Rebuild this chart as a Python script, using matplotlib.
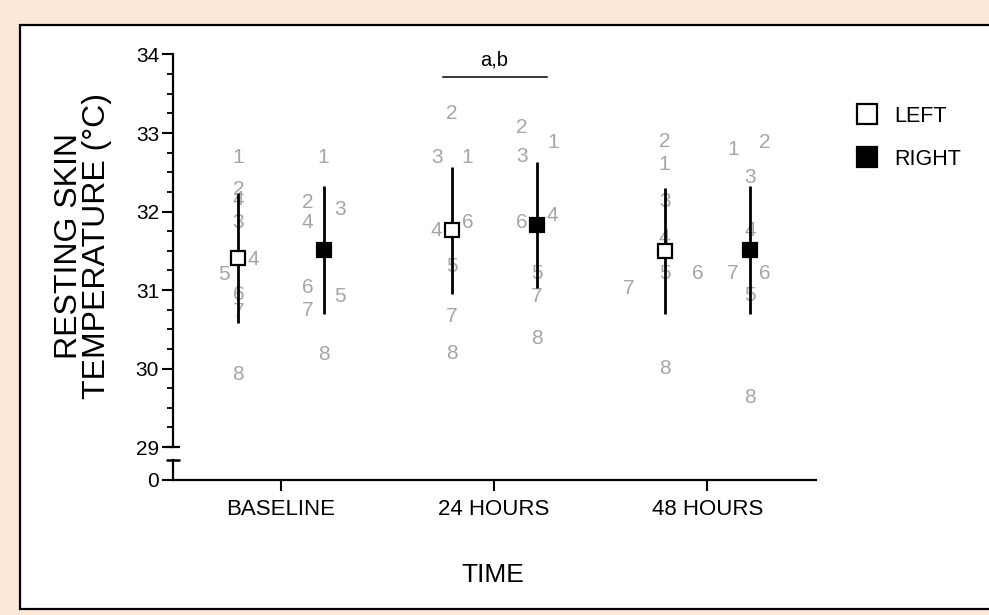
import numpy as np
import matplotlib
matplotlib.use("Agg")
import matplotlib.pyplot as plt
from matplotlib.patches import Rectangle

plt.rcParams['font.family'] = ['Liberation Sans', 'DejaVu Sans']

# categories and group summary (mean +/- SD)
times = ["BASELINE", "24 HOURS", "48 HOURS"]
left_mean = [31.41, 31.76, 31.50]
left_sd = [0.83, 0.81, 0.80]
right_mean = [31.51, 31.83, 31.51]
right_sd = [0.81, 0.80, 0.81]

# individual subject values, one list per time/side
bl_left_labels = ['1', '2', '4', '3', '4', '5', '6', '7', '8']
bl_left_vals = [32.69, 32.28, 32.15, 31.86, 31.39, 31.20, 30.94, 30.72, 29.93]
bl_right_labels = ['1', '2', '3', '4', '6', '5', '7', '8']
bl_right_vals = [32.69, 32.11, 32.03, 31.86, 31.03, 30.92, 30.74, 30.18]
h24_left_labels = ['2', '3', '1', '4', '6', '5', '7', '8']
h24_left_vals = [33.25, 32.69, 32.69, 31.76, 31.86, 31.30, 30.66, 30.19]
h24_right_labels = ['2', '1', '3', '6', '4', '5', '7', '8']
h24_right_vals = [33.07, 32.88, 32.70, 31.86, 31.95, 31.21, 30.92, 30.38]
h48_left_labels = ['2', '1', '3', '4', '5', '6', '7', '8']
h48_left_vals = [32.89, 32.60, 32.13, 31.67, 31.21, 31.21, 31.02, 30.00]
h48_right_labels = ['1', '2', '3', '4', '7', '6', '5', '8']
h48_right_vals = [32.79, 32.88, 32.43, 31.76, 31.21, 31.21, 30.93, 29.63]

# horizontal nudges of the number labels (layout only, category units)
bl_left_dx = [0, 0, 0, 0, 0.07, -0.07, 0, 0, 0]
bl_right_dx = [0, -0.075, 0.075, -0.075, -0.075, 0.075, -0.075, 0]
h24_left_dx = [0, -0.07, 0.075, -0.07, 0.075, 0, 0, 0]
h24_right_dx = [-0.07, 0.075, -0.07, -0.07, 0.075, 0, 0, 0]
h48_left_dx = [0, 0, 0, 0, 0, 0.155, -0.17, 0]
h48_right_dx = [-0.08, 0.07, 0, 0, -0.08, 0.07, 0, 0]

side_shift = 0.2
y_bottom = 28.58
gray = '#a6a6a6'

fig = plt.figure(figsize=(9.89, 6.15), dpi=100)
fig.patch.set_facecolor('#fce8d9')
fig.patches.append(Rectangle((20 / 989, 6 / 615), 1.0, 584 / 615, transform=fig.transFigure,
                             facecolor='white', edgecolor='black', linewidth=1.6, zorder=-10))

ax = fig.add_axes([173 / 989, 135 / 615, 643 / 989, 425.5 / 615])
ax.set_facecolor('none')

x = np.arange(len(times))
xl = x - side_shift
xr = x + side_shift

# individual numbers (behind the bars)
groups = [
    (xl[0], bl_left_vals, bl_left_labels, bl_left_dx),
    (xr[0], bl_right_vals, bl_right_labels, bl_right_dx),
    (xl[1], h24_left_vals, h24_left_labels, h24_left_dx),
    (xr[1], h24_right_vals, h24_right_labels, h24_right_dx),
    (xl[2], h48_left_vals, h48_left_labels, h48_left_dx),
    (xr[2], h48_right_vals, h48_right_labels, h48_right_dx),
]
for xc, vals, labs, dxs in groups:
    for v, lab, dx in zip(vals, labs, dxs):
        ax.text(xc + dx, v, lab, color=gray, fontsize=15, ha='center', va='center', zorder=1)

ax.errorbar(xl, left_mean, yerr=left_sd, fmt='none', ecolor='black', elinewidth=2.0, capsize=0, zorder=3)
ax.errorbar(xr, right_mean, yerr=right_sd, fmt='none', ecolor='black', elinewidth=2.0, capsize=0, zorder=3)
hl, = ax.plot(xl, left_mean, 's', ms=9.5, mfc='white', mec='black', mew=1.6, ls='none', zorder=4, label='LEFT')
hr, = ax.plot(xr, right_mean, 's', ms=9.5, mfc='black', mec='black', mew=1.6, ls='none', zorder=4, label='RIGHT')

# significance bar over 24 hours
ax.plot([0.76, 1.25], [33.714, 33.714], color='black', lw=1.1, clip_on=False)
ax.text(1.0, 33.93, 'a,b', fontsize=14.5, ha='center', va='center')

ax.set_xlim(-0.507, 2.51)
ax.set_ylim(y_bottom, 34)

# broken y axis
for s in ['top', 'right', 'left']:
    ax.spines[s].set_visible(False)
ax.spines['bottom'].set_linewidth(1.6)
yt = ax.get_yaxis_transform()
ax.plot([0, 0], [29, 34], color='black', lw=1.6, transform=yt, clip_on=False)
ax.plot([0, 0], [y_bottom, 28.835], color='black', lw=1.6, transform=yt, clip_on=False)
ax.plot([0], [28.835], marker='_', ms=10, mew=1.8, color='black', transform=yt, clip_on=False)
ax.plot([0], [29], marker='_', ms=10, mew=1.6, color='black', transform=yt, clip_on=False)

ax.set_yticks([y_bottom, 29, 30, 31, 32, 33, 34])
ax.set_yticklabels(['0', '29', '30', '31', '32', '33', '34'], fontsize=15)
ax.set_yticks(np.arange(29, 34.01, 0.25), minor=True)
ax.tick_params(axis='y', which='major', direction='out', length=8, width=1.5, pad=2)
ax.tick_params(axis='y', which='minor', direction='out', length=4.5, width=1.3)

ax.set_xticks(x)
ax.set_xticklabels(times, fontsize=16)
ax.tick_params(axis='x', direction='out', length=8, width=1.5, pad=6)

fig.text(493 / 989, 1 - 575 / 615, 'TIME', fontsize=19, ha='center', va='center')
fig.text(83 / 989, 1 - 246 / 615, 'RESTING SKIN\nTEMPERATURE (\u00b0C)', fontsize=23,
         rotation=90, ha='center', va='center', linespacing=0.95, multialignment='center')

fig.legend(handles=[hl, hr], loc='upper left', bbox_to_anchor=(856 / 989, 1 - 106 / 615),
           frameon=False, fontsize=15.5, markerscale=1.5, handlelength=1.0, handletextpad=0.8,
           labelspacing=1.0, borderpad=0, borderaxespad=0)

fig.savefig('out.png', dpi=100, facecolor=fig.get_facecolor())
